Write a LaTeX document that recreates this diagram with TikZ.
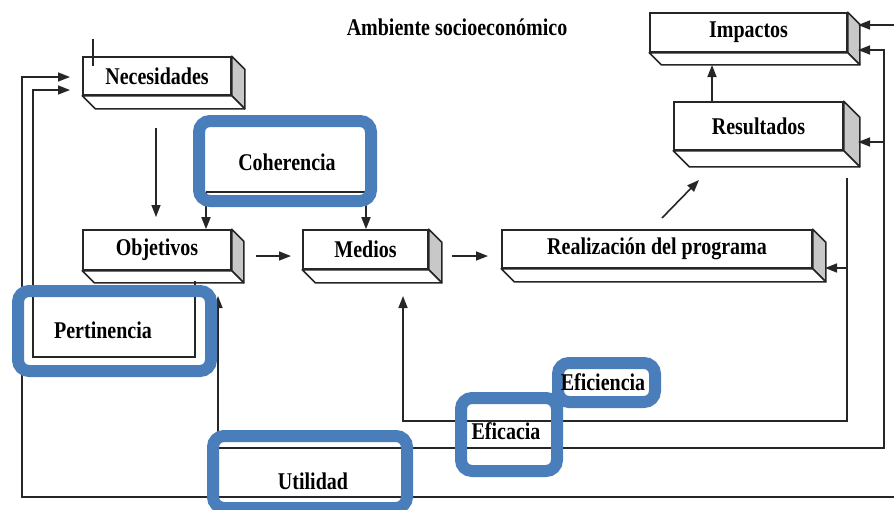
\documentclass[tikz,border=0pt]{standalone}
\usepackage{fontspec}
\setmainfont{Liberation Serif}
\usetikzlibrary{arrows.meta,calc}
\definecolor{hl}{RGB}{74,126,187}
\definecolor{side}{RGB}{200,200,200}
\definecolor{ink}{RGB}{38,38,38}
\newcommand{\lbl}[1]{\scalebox{1}[1.2]{#1}}
\newcommand{\prism}[2]{%
  \draw[ln,fill=side,line join=round] (#1.north east) -- ++(#2,#2) -- ([shift={(#2,#2)}]#1.south east) -- (#1.south east) -- cycle;
  \draw[ln,fill=white,line join=round] (#1.south west) -- ++(#2,#2) -- ([shift={(#2,#2)}]#1.south east) -- (#1.south east) -- cycle;}
\tikzset{tipA/.tip={Triangle[length=12pt,width=9pt]}}
\begin{document}
\begin{tikzpicture}[x=1pt,y=-1pt,
  ln/.style={draw=ink,line width=1.6pt},
  arr/.style={ln,-tipA},
  dbl/.style={ln,tipA-tipA},
  box/.style={ln,fill=white,rectangle,inner sep=0pt,font=\bfseries\fontsize{20}{24}\selectfont},
  hlbox/.style={draw=hl,line width=12pt,rounded corners=11pt},
  txt/.style={font=\bfseries\fontsize{20}{24}\selectfont,inner sep=1pt}]
\useasboundingbox (0,0) rectangle (894,509);
\clip (0,0) rectangle (894,509);
\fill[white] (0,0) rectangle (894,509);

% 3D boxes
\node[box,minimum width=148pt,minimum height=38pt] (nec) at (157,76) {\lbl{Necesidades}};
\prism{nec}{13}
\node[box,minimum width=148pt,minimum height=40pt] (obj) at (157,250) {\lbl{Objetivos}};
\prism{obj}{12}
\node[box,minimum width=125pt,minimum height=39pt] (med) at (365.5,249.5) {\lbl{Medios}};
\prism{med}{13}
\node[box,minimum width=310pt,minimum height=38pt] (rea) at (657,249) {\lbl{Realización del programa}};
\prism{rea}{13}
\node[box,minimum width=169pt,minimum height=48pt] (res) at (758.5,126) {\lbl{Resultados}};
\prism{res}{16}
\node[box,minimum width=197pt,minimum height=39pt] (imp) at (748.5,32.5) {\lbl{Impactos}};
\prism{imp}{12}

% title
\node[txt] (amb) at (457,27) {\lbl{Ambiente socioeconómico}};

% connectors
\coordinate (tk1) at (93,39); \coordinate (tk2) at (93,66);
\draw[ln] (tk1) -- (tk2);
\coordinate (a1) at (156,128); \coordinate (a2) at (156,217);
\draw[arr] (a1) -- (a2);
\coordinate (cL) at (206,192); \coordinate (cR) at (366,192);
\draw[ln] (cL) -- (cR);
\draw[arr] (cL) -- (cL |- obj.north);
\draw[arr] (cR) -- (cR |- med.north);
\coordinate (om1) at (256,256); \coordinate (om2) at (291,256);
\draw[arr] (om1) -- (om2);
\coordinate (mr1) at (452,256); \coordinate (mr2) at (488,256);
\draw[arr] (mr1) -- (mr2);
\coordinate (rr1) at (662,218); \coordinate (rr2) at (699,180);
\draw[arr] (rr1) -- (rr2);
\coordinate (ri1) at (712,102); \coordinate (ri2) at (712,65);
\draw[arr] (ri1) -- (ri2);

% Pertinencia loop
\coordinate (p0) at (195,281); \coordinate (p1) at (70,90);
\draw[arr] (p0) -- (195,357) -- (33,357) -- (33,90) -- (p1);
% outer loop
\coordinate (o1) at (70,77); \coordinate (o2) at (858,25);
\draw[dbl] (o1) -- (22,77) -- (22,497) -- (900,497) -- (900,25) -- (o2);
% Utilidad loop
\coordinate (u1) at (218,296); \coordinate (u2) at (858,50); \coordinate (u3) at (858,142);
\draw[dbl] (u1) -- (218,448) -- (884,448) -- (884,50) -- (u2);
\draw[arr] (884,142) -- (u3);
% Eficacia loop
\coordinate (e1) at (847,178); \coordinate (e2) at (403,296); \coordinate (e3) at (825,268);
\draw[arr] (e1) -- (847,421) -- (403,421) -- (e2);
\draw[arr] (847,268) -- (e3);

% highlight boxes
\draw[hlbox] (199,121) rectangle (371,201);
\draw[hlbox] (18,291) rectangle (211,371);
\draw[hlbox] (213,436) rectangle (407,508);
\draw[hlbox] (461,398) rectangle (557,471);
\draw[hlbox,fill=white] (558,363) rectangle (655,402);

% labels
\node[txt] (coh) at (287,162) {\lbl{Coherencia}};
\node[txt] (per) at (103,330) {\lbl{Pertinencia}};
\node[txt] (uti) at (313,481) {\lbl{Utilidad}};
\node[txt] (efa) at (506,431) {\lbl{Eficacia}};
\node[txt] (efi) at (603,382) {\lbl{Eficiencia}};
\end{tikzpicture}
\end{document}
